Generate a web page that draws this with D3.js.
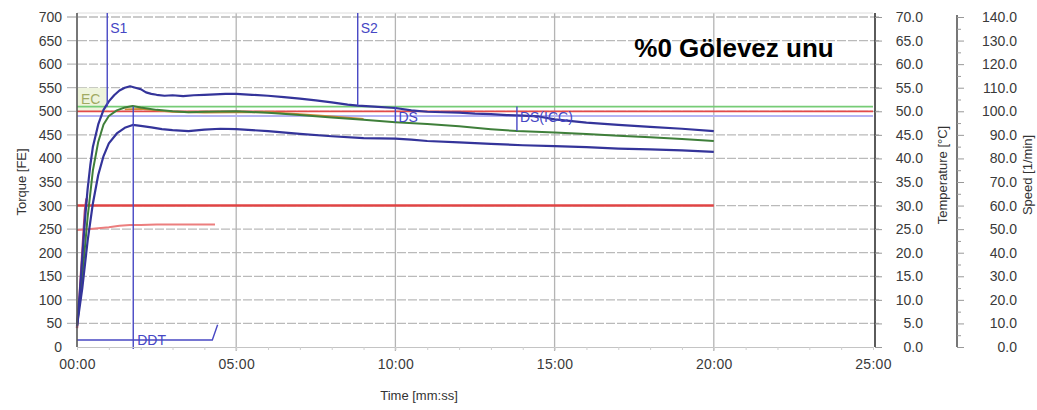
<!DOCTYPE html>
<html>
<head>
<meta charset="utf-8">
<script src="https://cdn.jsdelivr.net/npm/d3@7/dist/d3.min.js"></script>
<style>
  html, body { margin: 0; padding: 0; background: #fff; }
  svg { display: block; font-family: "Liberation Sans", Arial, sans-serif; }
  .tick text { fill: #3a3a3a; }
</style>
</head>
<body>
<svg id="chart" width="1037" height="410"></svg>
<script>
// Farinograph run: torque band (max / mean / min), temperatures and evaluation markers.

// Upper edge of the torque band [FE]
const upperTime = [0,5,10,15,20,25,30,40,50,60,70,80,90,100,110,120,130,140,150,165,180,200,220,240,260,280,300,330,360,390,420,450,480,510,529,560,600,630,660,690,720,750,780,810,840,870,900,960,1020,1080,1140,1200];
const upperTorque = [45,110,190,270,335,385,425,472,503,521,534,544,550,553,550,547,540,537,535,533,534,532,534,535,536,537,537,535,533,530,527,523,519,514,512,510,507,502,499,498,497,495,494,492,491,489,483,476,471,467,463,458];

// Mean torque curve [FE]
const meanTime = [0,10,20,30,40,50,60,75,90,105,120,150,180,210,240,300,360,420,480,540,600,660,720,780,829,900,960,1020,1080,1140,1200];
const meanTorque = [45,150,275,375,435,472,490,502,508,511,508,503,500,498,499,500,497,492,487,482,477,473,468,462,458,455,452,448,445,441,437];

// Mean torque overlay (second trace) [FE]
const overlayTime = [90,120,180,240,300,360,420,480,540];
const overlayTorque = [504,505,499,497,498,498,494,489,484];

// Lower edge of the torque band [FE]
const lowerTime = [0,10,20,30,40,50,60,75,90,105,120,140,160,180,210,240,270,300,360,420,480,540,600,630,660,720,780,840,900,960,1020,1080,1140,1200];
const lowerTorque = [45,125,225,305,365,405,432,453,465,471,469,466,462,460,458,461,463,462,458,452,447,443,442,440,437,434,431,428,426,424,421,419,417,414];

// Raw torque at the start of mixing [FE]
const startTime = [0,5,10,15,18];
const startTorque = [40,110,200,290,315];

// Temperatures [°C]
const bathTime = [0,1200];
const bathTemp = [30.0,30.0];
const doughTime = [0,20,40,60,80,100,120,150,200,260];
const doughTemp = [24.8,25.0,25.2,25.4,25.7,25.9,25.9,26.0,26.0,26.0];

// Consistency band lines [FE]
const bandValues = [510,500,490];
const bandColors = ["#76cc76","#e24a4a","#b4b4f4"];

// Evaluation markers
const markerNames = ["S1","S2","DS","DS(ICC)","DDT"];
const markerTimes = [57,529,600,829,106];
const ecRange = { t: [0,57], v: [500,550] };
const ddtBracketTime = [0,255,265];
const ddtBracketTorque = [15,15,47];

// Axis ticks
const timeTicks = [0,300,600,900,1200,1500];
const torqueTicks = d3.range(0,701,50);
const tempTicks = d3.range(0,70.1,5);
const speedTicks = d3.range(0,140.1,10);

const svg = d3.select("#chart");
const pLeft = 77, pRight = 873, pTop = 17, pBottom = 347;

const x = d3.scaleLinear().domain([0,1500]).range([pLeft,pRight]);
const yT = d3.scaleLinear().domain([0,700]).range([pBottom,pTop]);
const yC = d3.scaleLinear().domain([0,70]).range([pBottom,pTop]);
const yS = d3.scaleLinear().domain([0,140]).range([pBottom,pTop]);

const fmtTime = s => {
  const m = Math.floor(s/60), sec = Math.round(s%60);
  return String(m).padStart(2,"0") + ":" + String(sec).padStart(2,"0");
};

// Grid
const grid = svg.append("g");
grid.selectAll("line.h").data(torqueTicks.filter(v => v > 0)).join("line")
  .attr("x1", pLeft-10).attr("x2", pRight+8)
  .attr("y1", d => yT(d)).attr("y2", d => yT(d))
  .attr("stroke", "#bababa").attr("stroke-width", 1.3)
  .attr("stroke-dasharray", "9,2");
grid.selectAll("line.v").data(timeTicks.filter(t => t > 0 && t < 1500)).join("line")
  .attr("x1", d => x(d)).attr("x2", d => x(d))
  .attr("y1", pTop-4).attr("y2", pBottom+4)
  .attr("stroke", "#b4b4b4").attr("stroke-width", 1.3);
grid.append("line").attr("x1", pLeft).attr("x2", pRight)
  .attr("y1", pTop-4).attr("y2", pTop-4).attr("stroke", "#dcdcdc");

// EC shaded region
svg.append("rect")
  .attr("x", x(ecRange.t[0])).attr("width", x(ecRange.t[1]) - x(ecRange.t[0]))
  .attr("y", yT(ecRange.v[1])).attr("height", yT(ecRange.v[0]) - yT(ecRange.v[1]))
  .attr("fill", "#eef4dc");
svg.append("text").attr("x", x(ecRange.t[0]) + 4).attr("y", yT(515))
  .attr("font-size", 14).attr("fill", "#a0aa62").text("EC");

// Band lines
bandValues.forEach((v,i) => {
  svg.append("line").attr("x1", x(0)).attr("x2", x(1500))
    .attr("y1", yT(v)).attr("y2", yT(v))
    .attr("stroke", bandColors[i]).attr("stroke-width", 1.8);
});

const zip = (ts, vs) => ts.map((t,i) => [t, vs[i]]);
const lineT = d3.line().x(d => x(d[0])).y(d => yT(d[1]));
const lineC = d3.line().x(d => x(d[0])).y(d => yC(d[1]));

// Temperatures
svg.append("path").datum(zip(bathTime, bathTemp)).attr("d", lineC)
  .attr("fill","none").attr("stroke","#e04444").attr("stroke-width",2.4);
svg.append("path").datum(zip(doughTime, doughTemp)).attr("d", lineC)
  .attr("fill","none").attr("stroke","#ec7e7e").attr("stroke-width",2);

// Torque curves
const curve = (ts, vs, color, w) => svg.append("path").datum(zip(ts, vs)).attr("d", lineT)
  .attr("fill","none").attr("stroke",color).attr("stroke-width",w)
  .attr("stroke-linejoin","round");
curve(startTime, startTorque, "#b8406a", 2.4);
curve(overlayTime, overlayTorque, "#d08a3a", 1.8);
curve(meanTime, meanTorque, "#3f7f3a", 2);
curve(upperTime, upperTorque, "#34349a", 2.2);
curve(lowerTime, lowerTorque, "#34349a", 2.2);

// Markers
const interp = (ts, vs, t) => d3.scaleLinear().domain(ts).range(vs)(t);
const mk = "#4848c4";
const markers = svg.append("g").attr("stroke", mk).attr("stroke-width", 1.4).attr("fill","none");
const label = (txt, px, py) => svg.append("text").attr("x", px).attr("y", py)
  .attr("font-size", 14).attr("fill", "#4646c4").text(txt);

// S1
const tS1 = markerTimes[0];
markers.append("line").attr("x1", x(tS1)).attr("x2", x(tS1)).attr("y1", pTop-4).attr("y2", yT(510));
label(markerNames[0], x(tS1)+3, 33);
// S2
const tS2 = markerTimes[1];
markers.append("line").attr("x1", x(tS2)).attr("x2", x(tS2)).attr("y1", pTop-4).attr("y2", yT(interp(upperTime, upperTorque, tS2)));
label(markerNames[1], x(tS2)+3, 33);
// DS and DS(ICC)
[2,3].forEach(i => {
  const t = markerTimes[i];
  markers.append("line").attr("x1", x(t)).attr("x2", x(t))
    .attr("y1", yT(510)).attr("y2", yT(interp(meanTime, meanTorque, t)));
  label(markerNames[i], x(t)+3, yT(477));
});
// DDT
const tD = markerTimes[4];
markers.append("line").attr("x1", x(tD)).attr("x2", x(tD)).attr("y1", yT(510)).attr("y2", pBottom+2);
markers.append("path").datum(zip(ddtBracketTime, ddtBracketTorque)).attr("d", lineT);
label(markerNames[4], x(tD)+4, yT(15)+5);

// Axes
const axL = svg.append("g").attr("transform", `translate(${pLeft},0)`)
  .call(d3.axisLeft(yT).tickValues(torqueTicks).tickSize(0).tickPadding(15));
axL.select(".domain").attr("stroke", "#555").attr("stroke-width", 1.6).attr("d", `M0,${pTop-4}V${pBottom}`);
axL.selectAll("text").attr("font-size", 14);

const axB = svg.append("g").attr("transform", `translate(0,${pBottom})`)
  .call(d3.axisBottom(x).tickValues(d3.range(0,1501,60)).tickSize(3).tickFormat(d => d % 300 === 0 ? fmtTime(d) : ""));
axB.select(".domain").attr("stroke", "#c4c4c4");
axB.selectAll("line").attr("stroke", "#cfcfcf");
axB.selectAll("text").attr("font-size", 14).attr("dy", "1.15em").attr("letter-spacing", 0.3);

const axR = svg.append("g").attr("transform", `translate(${pRight+2},0)`)
  .call(d3.axisRight(yC).tickValues(tempTicks).tickSize(7).tickPadding(3).tickFormat(d3.format(".1f")));
axR.select(".domain").attr("stroke", "#333").attr("stroke-width", 1.6).attr("d", `M0,${pTop-4}V${pBottom}`);
axR.selectAll("line").attr("stroke", "#999");
axR.selectAll("text").attr("font-size", 14).attr("text-anchor", "end").attr("x", 48);

const axS = svg.append("g").attr("transform", `translate(957,0)`)
  .call(d3.axisRight(yS).tickValues(speedTicks).tickSize(7).tickPadding(3).tickFormat(d3.format(".1f")));
axS.select(".domain").attr("stroke", "#555").attr("stroke-width", 1.6).attr("d", `M0,${pTop-2}V${pBottom}`);
axS.selectAll("line").attr("stroke", "#999");
axS.selectAll("text").attr("font-size", 14).attr("text-anchor", "end").attr("x", 60);
svg.append("g").attr("transform", `translate(957,0)`)
  .call(d3.axisRight(yS).tickValues(d3.range(5,140,10)).tickSize(4).tickFormat(""))
  .call(g => g.select(".domain").remove())
  .selectAll("line").attr("stroke", "#999");

// Axis titles
svg.append("text").attr("transform", "translate(26,182) rotate(-90)")
  .attr("text-anchor","middle").attr("font-size", 13).attr("fill", "#333").text("Torque [FE]");
svg.append("text").attr("transform", "translate(947,175) rotate(-90)")
  .attr("text-anchor","middle").attr("font-size", 13).attr("fill", "#333").text("Temperature [°C]");
svg.append("text").attr("transform", "translate(1032,175) rotate(-90)")
  .attr("text-anchor","middle").attr("font-size", 13).attr("fill", "#333").text("Speed [1/min]");
svg.append("text").attr("x", 419).attr("y", 400)
  .attr("text-anchor","middle").attr("font-size", 13).attr("fill", "#333").text("Time [mm:ss]");

// Title
svg.append("text").attr("x", 734).attr("y", 57).attr("text-anchor","middle")
  .attr("font-size", 26).attr("font-weight", "bold").attr("fill", "#000").text("%0 Gölevez unu");
</script>
</body>
</html>
